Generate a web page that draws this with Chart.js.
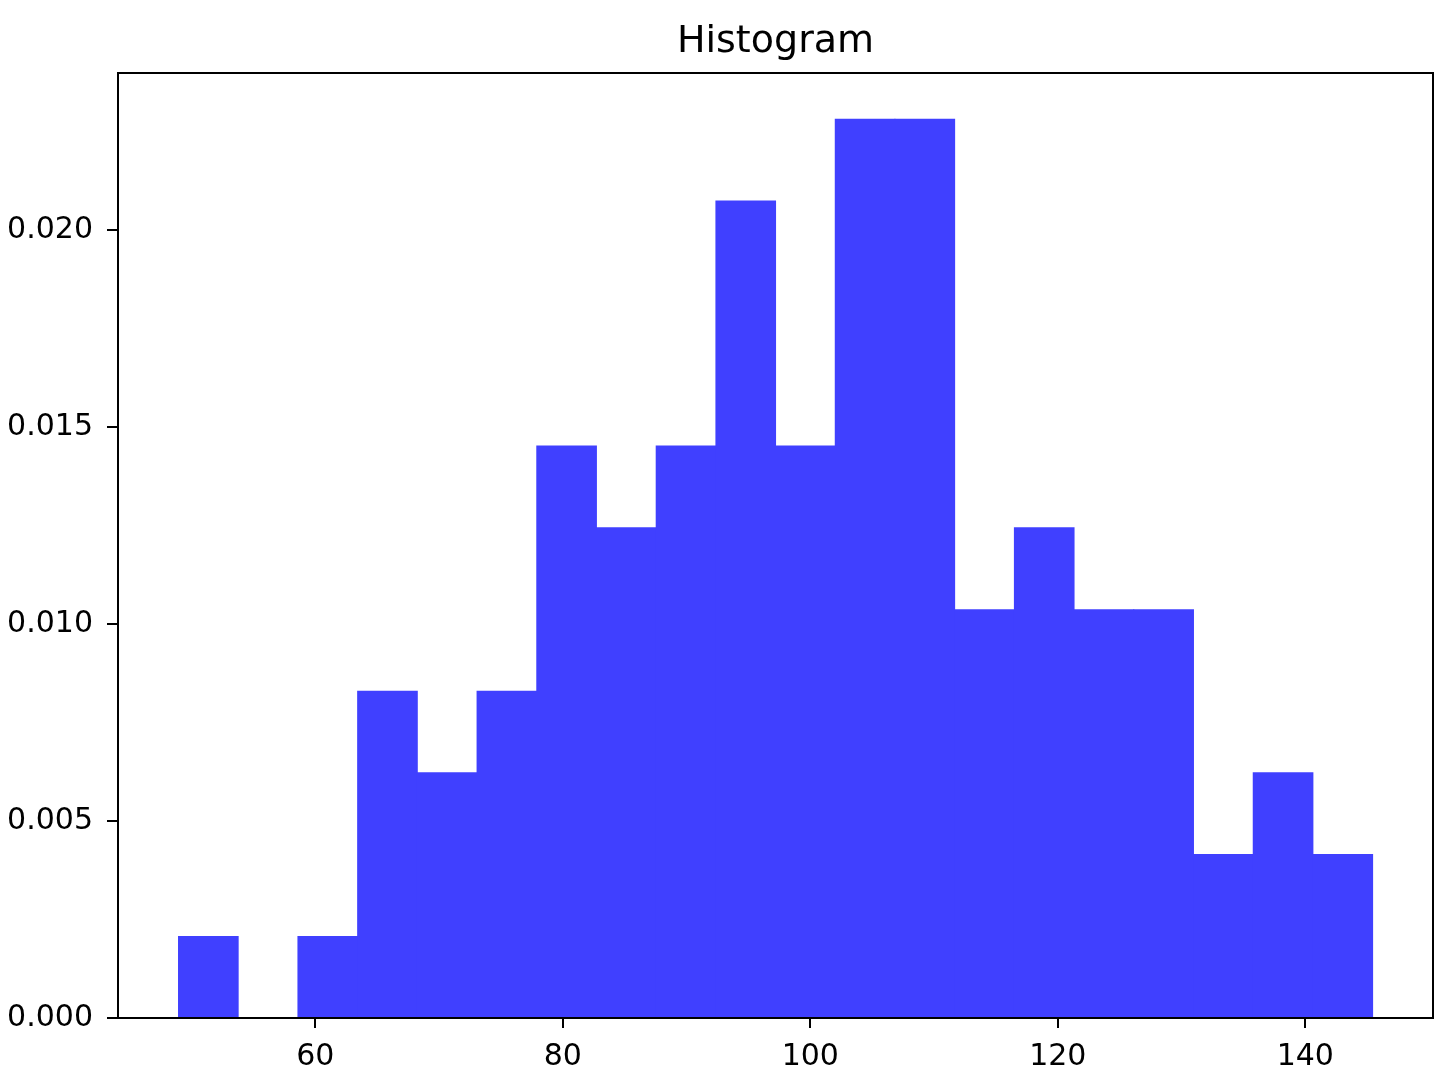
<!DOCTYPE html>
<html>
<head>
<meta charset="utf-8">
<script src="https://cdn.jsdelivr.net/npm/chart.js@4/dist/chart.umd.min.js"></script>
<style>
  html, body { margin: 0; padding: 0; background: #fff; }
  #chart { display: block; }
</style>
</head>
<body>
<canvas id="chart" width="1453" height="1077"></canvas>
<script>
// bin edges (20 bins)
const binEdges = [48.95, 53.77, 58.60, 63.42, 68.25, 73.07, 77.90, 82.72, 87.55, 92.37, 97.20,
  102.02, 106.84, 111.67, 116.49, 121.32, 126.14, 130.97, 135.79, 140.62, 145.44];
// density per bin
const densities = [0.00207, 0, 0.00207, 0.00829, 0.00622, 0.00829, 0.01451, 0.01244, 0.01451, 0.02073,
  0.01451, 0.02280, 0.02280, 0.01036, 0.01244, 0.01036, 0.01036, 0.00415, 0.00622, 0.00415];
const xTicks = [60, 80, 100, 120, 140];
const yTicks = [0, 0.005, 0.010, 0.015, 0.020];

const barColor = '#4040ff';
const font = 'DejaVu Sans';

const points = densities.map((d, i) => ({ x: (binEdges[i] + binEdges[i + 1]) / 2, y: d }));

// black frame around the plot area
const framePlugin = {
  id: 'frame',
  afterDatasetsDraw(chart) {
    const { ctx, chartArea } = chart;
    ctx.save();
    ctx.strokeStyle = '#000';
    ctx.lineWidth = 2;
    ctx.strokeRect(chartArea.left, chartArea.top, chartArea.right - chartArea.left, chartArea.bottom - chartArea.top);
    ctx.restore();
  }
};

const ctx = document.getElementById('chart').getContext('2d');
new Chart(ctx, {
  type: 'bar',
  data: {
    datasets: [{
      label: 'Histogram',
      data: points,
      backgroundColor: barColor,
      borderWidth: 0,
      inflateAmount: 0.5,
      barPercentage: 1,
      categoryPercentage: 1,
    }],
  },
  options: {
    responsive: false,
    animation: false,
    layout: { padding: { left: 0, right: 20, top: 0, bottom: 0 } },
    plugins: {
      legend: { display: false },
      tooltip: { enabled: false },
      title: {
        display: true,
        fullSize: false,
        text: 'Histogram',
        color: '#000',
        font: { family: font, size: 38, weight: 'normal', lineHeight: 1.2 },
        padding: { top: 19, bottom: 8.4 },
      },
    },
    scales: {
      x: {
        type: 'linear',
        min: 44.06,
        max: 150.32,
        offset: false,
        border: { display: false },
        grid: { offset: false, drawOnChartArea: false, drawTicks: true, tickLength: 10, color: '#000', lineWidth: 2 },
        ticks: {
          color: '#000',
          font: { family: font, size: 30 },
          padding: 11,
          maxRotation: 0,
          callback: v => String(v),
        },
        afterBuildTicks: scale => { scale.ticks = xTicks.map(v => ({ value: v })); },
        afterFit: scale => { scale.height = 59; },
      },
      y: {
        min: 0,
        max: 0.023976,
        border: { display: false },
        grid: { drawOnChartArea: false, drawTicks: true, tickLength: 11, color: '#000', lineWidth: 2 },
        ticks: {
          color: '#000',
          font: { family: font, size: 30 },
          padding: 14,
          callback: v => v.toFixed(3),
        },
        afterBuildTicks: scale => { scale.ticks = yTicks.map(v => ({ value: v })); },
        afterFit: scale => { scale.width = 118; },
      },
    },
  },
  plugins: [framePlugin],
});
</script>
</body>
</html>
